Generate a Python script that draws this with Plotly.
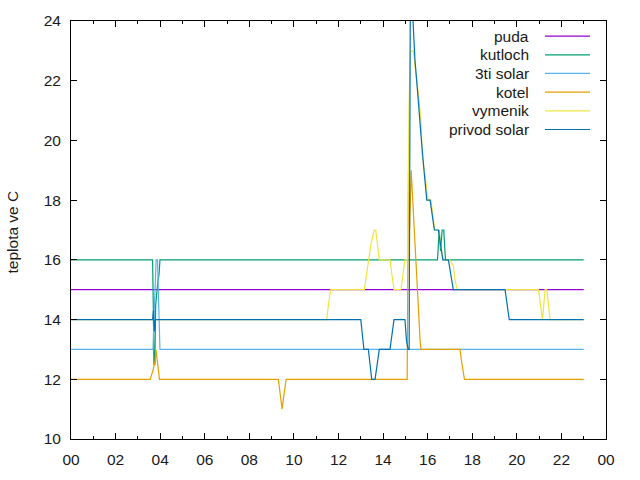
import plotly.graph_objects as go

# ---- data (time in hours, temperature in deg C) ----
x_tick_vals = list(range(0, 25, 2))
x_tick_labels = ["00", "02", "04", "06", "08", "10", "12", "14", "16", "18", "20", "22", "00"]
y_tick_vals = [10, 12, 14, 16, 18, 20, 22, 24]

puda_t = [0.0, 23.0]
puda_v = [15, 15]

kutloch_t = [0.0, 3.66, 3.69, 3.72, 3.76, 3.80, 3.90, 3.95, 3.99, 16.44, 16.52, 16.58, 16.65, 16.72, 16.80, 23.0]
kutloch_v = [16, 16, 14.5, 12.5, 12.5, 14.5, 15.3, 15.5, 16, 16, 17, 16.3, 17, 17, 16, 16]

solar3_t = [0.0, 3.68, 3.72, 3.77, 3.82, 3.88, 3.92, 3.99, 23.0]
solar3_v = [13, 13, 14, 15.5, 16, 16, 15, 13, 13]

kotel_t = [0.0, 3.55, 3.68, 3.77, 3.81, 3.86, 3.93, 3.97, 9.30, 9.38, 9.42, 9.47, 9.52, 9.60, 9.65,
           15.08, 15.14, 15.19, 15.26, 15.33, 15.43, 15.50, 15.58, 15.66, 15.70, 17.45, 17.52, 17.58, 17.65, 23.0]
kotel_v = [12, 12, 12.3, 12.6, 13, 12.7, 12.3, 12, 12, 11.6, 11.3, 11, 11.3, 11.8, 12,
           12, 19, 17, 19, 18, 16.5, 15.4, 14.3, 13.3, 13, 13, 12.6, 12.3, 12, 12]

vymenik_t = [0.0, 11.47, 11.55, 11.65, 13.16, 13.25, 13.34, 13.45, 13.60, 13.67, 13.75, 13.83, 14.31, 14.40,
             14.49, 14.80, 14.90, 14.98, 15.10, 15.16, 15.22, 15.35, 15.51, 15.61, 15.70, 15.76, 15.85, 15.95,
             16.02, 16.15, 16.22, 16.32, 16.50, 16.58, 16.70, 16.98, 17.15, 17.23, 17.33, 20.97, 21.06, 21.15,
             21.27, 21.34, 21.42, 21.49, 23.0]
vymenik_v = [14, 14, 14.5, 15, 15, 15.5, 16, 16.5, 17, 17, 16.5, 16, 16, 15.5,
             15, 15, 15.5, 16, 16, 21, 23, 23, 22, 21.4, 20.6, 19.5, 19, 18.3,
             18, 18, 17.5, 17, 17, 16.5, 16, 16, 15.8, 15.3, 15, 15, 14.5, 14,
             15, 15, 14.5, 14, 14]

privod_t = [0.0, 3.66, 3.70, 3.74, 3.78, 13.00, 13.14, 13.34, 13.49, 13.64, 13.83, 14.31, 14.49, 14.98,
            15.05, 15.12, 15.17, 15.22, 15.31, 15.36, 15.43, 15.54, 15.63, 15.73, 15.81, 15.88, 15.96,
            16.11, 16.18, 16.30, 16.48, 16.57, 16.68, 16.93, 17.02, 17.15, 19.47, 19.55, 19.66, 23.0]
privod_v = [14, 14, 14.3, 13.6, 14, 14, 13, 13, 12, 12, 13, 13, 14, 14,
            13.3, 13, 13, 24.5, 24.5, 23.6, 22.7, 21.7, 20.7, 19.9, 19.2, 18.5, 18,
            18, 17.6, 17, 17, 16.5, 16, 16, 15.6, 15, 15, 14.5, 14, 14]

series_names = ["puda", "kutloch", "3ti solar", "kotel", "vymenik", "privod solar"]
series_t = [puda_t, kutloch_t, solar3_t, kotel_t, vymenik_t, privod_t]
series_v = [puda_v, kutloch_v, solar3_v, kotel_v, vymenik_v, privod_v]
series_colors = ["#9400d3", "#009e73", "#56b4e9", "#e69f00", "#f0e442", "#0072b2"]

FONT = "Liberation Sans, Arial, sans-serif"
FS = 15.5
LW = 1.2

fig = go.Figure()
for name, t, v, c in zip(series_names, series_t, series_v, series_colors):
    fig.add_trace(go.Scatter(x=t, y=v, mode="lines", name=name,
                             line=dict(color=c, width=LW), showlegend=False,
                             hoverinfo="skip"))

# gnuplot-style legend: right-aligned text with line sample on the right
L, R, T, B = 71, 34, 18, 39
PW, PH = 640 - L - R, 480 - T - B
row_y = [33.3, 52.2, 71.1, 90.0, 108.9, 127.8]
for name, c, py in zip(series_names, series_colors, row_y):
    yp = (441 - py) / PH
    fig.add_annotation(xref="paper", yref="paper", x=(531 - L) / PW, y=yp,
                       text=name, showarrow=False, xanchor="right", yanchor="middle",
                       font=dict(family=FONT, size=FS, color="#1a1a1a"))
    fig.add_shape(type="line", xref="paper", yref="paper",
                  x0=(545 - L) / PW, x1=(590 - L) / PW, y0=yp, y1=yp,
                  line=dict(color=c, width=LW))

fig.add_annotation(xref="paper", yref="paper", x=(12 - L) / PW, y=(441 - 232) / PH,
                   text="teplota ve C", textangle=-90, showarrow=False,
                   xanchor="center", yanchor="middle",
                   font=dict(family=FONT, size=FS, color="#1a1a1a"))

fig.update_layout(
    width=640, height=480,
    margin=dict(l=L, r=R, t=T, b=B, pad=0),
    paper_bgcolor="white", plot_bgcolor="white",
    font=dict(family=FONT, size=FS, color="#1a1a1a"),
    xaxis=dict(range=[0, 24], tickmode="array", tickvals=x_tick_vals, ticktext=x_tick_labels,
               ticks="inside", ticklen=6, tickcolor="black", tickwidth=1,
               showline=True, linecolor="black", linewidth=1, mirror="ticks",
               showgrid=False, zeroline=False, ticklabelstandoff=6,
               minor=dict(tickmode="linear", tick0=0, dtick=1, ticks="inside", ticklen=3,
                          tickcolor="black", showgrid=False)),
    yaxis=dict(range=[10, 24], tickmode="array", tickvals=y_tick_vals,
               ticks="inside", ticklen=6, tickcolor="black", tickwidth=1,
               showline=True, linecolor="black", linewidth=1, mirror="ticks",
               showgrid=False, zeroline=False, ticklabelstandoff=6),
)

fig.write_html("out.html")
